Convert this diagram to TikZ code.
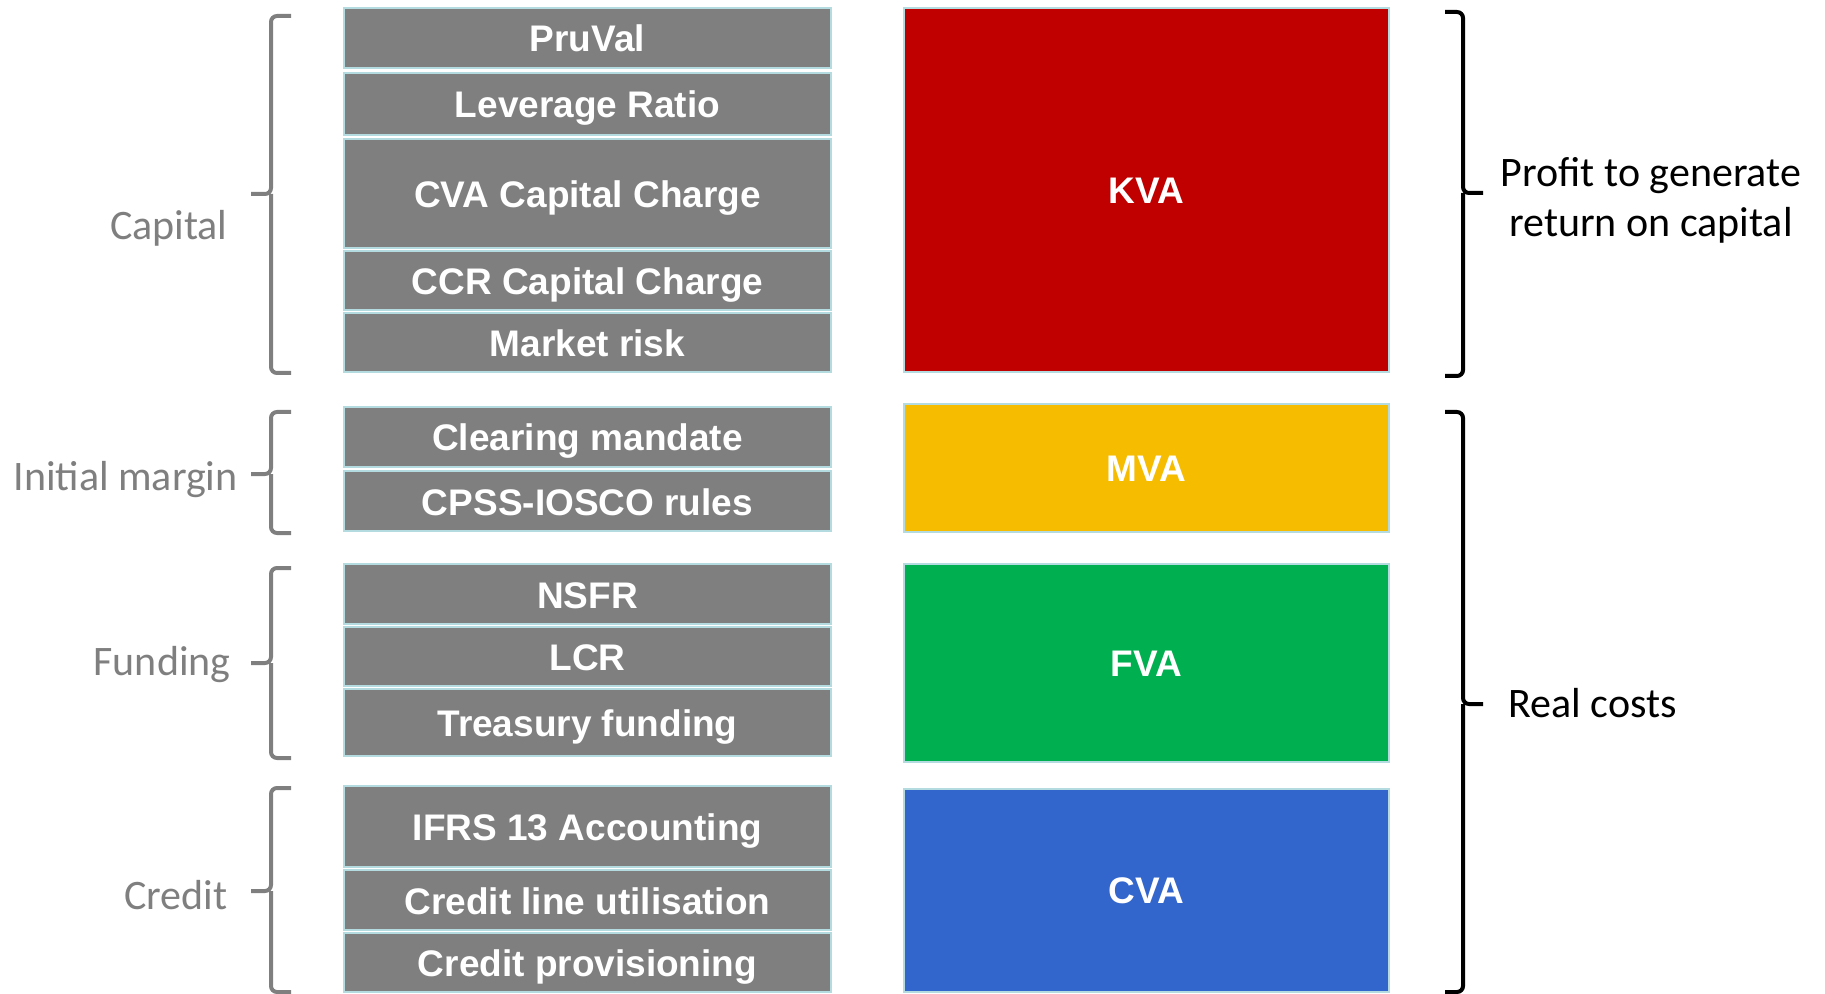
\documentclass[tikz,border=0pt]{standalone}
\usepackage{fontspec}
\setmainfont{Liberation Sans}
\newfontfamily\calib{Carlito}
\definecolor{boxgray}{HTML}{7F7F7F}
\definecolor{edgeblue}{HTML}{B4DCE0}
\definecolor{kvared}{HTML}{C00000}
\definecolor{mvayellow}{HTML}{F5BC00}
\definecolor{fvagreen}{HTML}{00B050}
\definecolor{cvablue}{HTML}{3366CC}
\definecolor{labgray}{HTML}{7F7F7F}
\begin{document}
\begin{tikzpicture}[x=0.5pt,y=-0.5pt,
  gbox/.style={draw=edgeblue,line width=1.25pt,fill=boxgray,minimum width=243.5pt,
    inner sep=0pt,text=white,font=\bfseries\fontsize{18.5}{22}\selectfont,
    text height=14pt,text depth=0pt},
  vbox/.style={draw=edgeblue,line width=1pt,minimum width=242.5pt,
    inner sep=0pt,text=white,font=\bfseries\fontsize{18.5}{22}\selectfont,
    text height=13.3pt,text depth=0pt},
  grouplab/.style={anchor=base east,inner sep=0pt,text=labgray,font=\calib\fontsize{21}{25}\selectfont},
  sidelab/.style={anchor=base,inner sep=0pt,text=black,font=\calib\fontsize{21}{25}\selectfont},
  gbrace/.style={draw=labgray,line width=2pt,rounded corners=3pt},
  bbrace/.style={draw=black,line width=2pt,rounded corners=3pt}]
\useasboundingbox (0,0) rectangle (1825,994);
% left column boxes
\node[gbox,minimum height=30pt]   (pruval)   at (587.5,38)    {PruVal};
\node[gbox,minimum height=31pt]   (lever)    at (587.5,104)   {Leverage Ratio};
\node[gbox,minimum height=54.5pt] (cvacc)    at (587.5,193.5) {CVA Capital Charge};
\node[gbox,minimum height=29.5pt] (ccrcc)    at (587.5,280.5) {CCR Capital Charge};
\node[gbox,minimum height=29.5pt] (market)   at (587.5,342.5) {Market risk};
\node[gbox,minimum height=30pt]   (clearing) at (587.5,437)   {Clearing mandate};
\node[gbox,minimum height=30pt]   (cpss)     at (587.5,501)   {CPSS-IOSCO rules};
\node[gbox,minimum height=30pt]   (nsfr)     at (587.5,594)   {NSFR};
\node[gbox,minimum height=29.5pt] (lcr)      at (587.5,656.5) {LCR};
\node[gbox,minimum height=33.5pt] (treasury) at (587.5,722.5) {Treasury funding};
\node[gbox,minimum height=40.5pt] (ifrs)     at (587.5,826.5) {IFRS 13 Accounting};
\node[gbox,minimum height=30pt]   (creditln) at (587.5,900)   {Credit line utilisation};
\node[gbox,minimum height=29.5pt] (creditpr) at (587.5,962.5) {Credit provisioning};
% right column boxes
\node[vbox,fill=kvared,minimum height=182pt]    (kva) at (1146.5,190)   {KVA};
\node[vbox,fill=mvayellow,minimum height=64pt]  (mva) at (1146.5,468)   {MVA};
\node[vbox,fill=fvagreen,minimum height=99pt]   (fva) at (1146.5,663)   {FVA};
\node[vbox,fill=cvablue,minimum height=101.5pt] (cva) at (1146.5,890.5) {CVA};
% group labels
\node[grouplab] (capital) at (228,239.5) {Capital};
\node[grouplab] (initm)   at (238,490)   {Initial margin};
\node[grouplab] (funding) at (231,675)   {Funding};
\node[grouplab] (credit)  at (228,909)   {Credit};
% left braces
\draw[gbrace] (291,16) -- (271,16) -- (271,194) -- (251,194);
\draw[gbrace] (271,194) -- (271,373) -- (291,373);
\draw[gbrace] (291,412) -- (271,412) -- (271,474) -- (251,474);
\draw[gbrace] (271,474) -- (271,533) -- (291,533);
\draw[gbrace] (291,568) -- (271,568) -- (271,663) -- (251,663);
\draw[gbrace] (271,663) -- (271,758) -- (291,758);
\draw[gbrace] (291,788) -- (271,788) -- (271,891) -- (251,891);
\draw[gbrace] (271,891) -- (271,992) -- (291,992);
% right braces
\draw[bbrace] (1445,12) -- (1463,12) -- (1463,193) -- (1483,193);
\draw[bbrace] (1463,193) -- (1463,376) -- (1445,376);
\draw[bbrace] (1445,412) -- (1463,412) -- (1463,704) -- (1483,704);
\draw[bbrace] (1463,704) -- (1463,992) -- (1445,992);
% right labels
\node[sidelab] (profit1) at (1651,187) {Profit to generate};
\node[sidelab] (profit2) at (1651,237) {return on capital};
\node[sidelab,anchor=base west] (real) at (1508,717) {Real costs};
\end{tikzpicture}
\end{document}
